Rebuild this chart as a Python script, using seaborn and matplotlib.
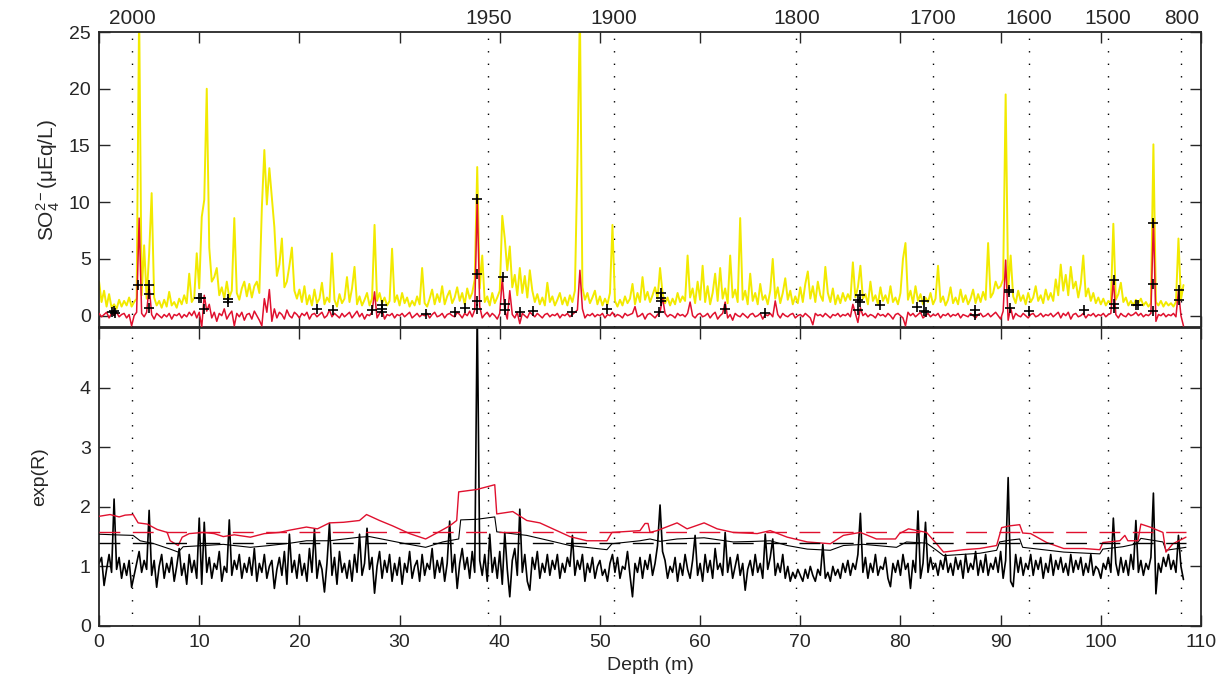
import numpy as np
import pandas as pd
import seaborn as sns
import matplotlib.pyplot as plt
import matplotlib.transforms as mtransforms

sns.set_style("ticks")
plt.rcParams['font.family'] = ['Liberation Sans', 'DejaVu Sans']
plt.rcParams['mathtext.fontset'] = 'custom'
plt.rcParams['mathtext.rm'] = 'Liberation Sans'
plt.rcParams['mathtext.it'] = 'Liberation Sans:italic'

# ---- data (depth grid 0.25 m for the noisy records) ----
step = 0.25

so4_total = [
    3.0, 1.2, 2.2, 0.8, 1.9, 0.7, 1.0, 0.6, 1.4, 0.8, 1.3, 0.9, 1.6, 0.8, 1.2, 1.5, 27.0, 1.8, 6.2, 1.5,
    5.5, 10.8, 1.6, 0.9, 1.3, 0.7, 1.4, 0.8, 2.1, 0.9, 1.2, 0.7, 1.5, 1.0, 1.8, 1.1, 3.7, 1.2, 1.6, 5.5,
    2.4, 8.7, 10.2, 20.0, 6.0, 3.0, 3.4, 4.2, 1.8, 2.5, 1.5, 3.0, 1.6, 2.2, 8.6, 2.0, 1.4, 2.4, 3.0, 1.7,
    2.8, 1.6, 2.6, 3.0, 2.0, 9.5, 14.6, 9.8, 13.0, 10.4, 7.8, 3.5, 4.5, 6.8, 2.5, 3.0, 4.4, 6.0, 2.2, 1.5,
    2.3, 1.2, 2.6, 1.0, 1.8, 0.9, 2.3, 1.1, 1.5, 2.9, 1.0, 1.6, 1.2, 5.5, 1.4, 0.8, 1.9, 1.1, 1.5, 3.4,
    1.2, 2.4, 4.3, 1.0, 1.7, 0.9, 1.4, 2.0, 0.9, 1.5, 8.0, 1.3, 2.0, 1.1, 1.6, 0.9, 1.3, 5.9, 1.2, 1.8,
    0.9, 2.0, 1.1, 1.6, 0.8, 1.3, 0.9, 1.7, 1.0, 4.2, 1.1, 0.8, 1.5, 2.3, 1.0, 1.9, 1.2, 2.6, 1.0, 1.7,
    2.2, 1.1, 1.6, 2.5, 1.3, 2.0, 1.0, 2.4, 1.5, 2.0, 3.2, 13.1, 2.4, 5.3, 1.2, 1.7, 0.9, 2.0, 1.1, 1.6,
    2.2, 8.8, 6.8, 4.0, 6.1, 2.5, 3.6, 1.8, 4.2, 2.0, 3.5, 1.6, 4.0, 2.2, 1.2, 1.9, 1.0, 1.6, 0.9, 2.9,
    1.2, 1.7, 0.9, 1.4, 2.0, 1.0, 1.6, 0.9, 1.8, 1.2, 2.2, 13.4, 27.0, 2.5, 1.4, 2.0, 1.1, 1.6, 2.2, 1.0,
    1.7, 0.9, 1.5, 1.0, 2.0, 8.0, 1.3, 0.8, 1.4, 0.9, 1.7, 1.1, 1.5, 2.8, 1.0, 2.0, 1.2, 3.4, 1.4, 2.1,
    1.2, 1.8, 2.5, 1.5, 4.2, 2.0, 1.1, 1.6, 0.9, 1.5, 1.0, 2.0, 1.2, 1.7, 1.3, 5.3, 1.6, 2.4, 1.1, 3.0,
    1.4, 4.4, 1.2, 2.6, 1.0, 2.0, 3.7, 1.3, 4.2, 1.5, 2.4, 1.1, 5.3, 1.6, 2.3, 1.2, 8.6, 1.4, 2.2, 1.0,
    3.7, 1.3, 2.0, 1.0, 2.8, 1.4, 1.8, 1.0, 2.2, 5.0, 1.5, 2.5, 1.1, 2.0, 3.3, 1.4, 2.2, 1.0, 1.7, 1.1,
    2.5, 1.2, 2.8, 3.9, 1.5, 2.6, 1.2, 3.0, 1.8, 1.3, 4.3, 2.0, 1.2, 2.4, 1.0, 1.8, 1.1, 2.0, 1.3, 1.9,
    1.4, 4.7, 1.6, 2.5, 4.4, 1.5, 1.9, 1.0, 3.0, 1.3, 1.8, 1.0, 2.5, 1.3, 1.8, 1.1, 2.6, 1.2, 1.6, 1.0,
    2.0, 5.0, 6.4, 1.4, 2.2, 1.1, 2.6, 1.3, 1.9, 1.0, 1.6, 1.2, 2.0, 1.0, 1.5, 4.4, 1.2, 1.7, 0.9, 1.4,
    2.5, 1.1, 1.6, 1.0, 2.3, 1.2, 1.8, 1.0, 1.5, 2.3, 1.1, 1.9, 1.2, 2.1, 1.4, 6.4, 1.6, 2.0, 3.0, 2.4,
    2.6, 3.2, 19.5, 2.3, 5.3, 1.7, 1.1, 2.2, 1.3, 1.8, 1.0, 2.0, 1.2, 1.6, 2.6, 1.3, 1.8, 1.1, 2.3, 1.4,
    2.0, 1.3, 3.2, 1.8, 4.5, 2.2, 3.6, 1.8, 4.3, 2.4, 3.0, 1.6, 2.8, 5.3, 1.7, 2.4, 1.3, 2.0, 1.1, 1.6,
    1.0, 1.5, 0.9, 1.3, 1.1, 8.1, 1.4, 1.9, 2.9, 1.2, 1.6, 0.9, 1.3, 0.9, 1.4, 1.1, 1.5, 0.9, 1.2, 0.8,
    1.1, 15.1, 1.2, 0.9, 1.3, 0.8, 1.2, 0.9, 1.1, 0.8, 1.2, 6.8, 1.4, 2.7,
]

so4_volc = [
    0.2, -0.1, 0.1, 0.3, -0.2, 0.2, 0.0, 0.3, -0.1, 0.1, 0.2, -0.2, 0.1, -0.9, 0.0, 0.3, 8.6, 0.2, -0.1, 0.3,
    2.6, 0.1, -0.3, 0.2, 0.0, -0.2, 0.1, -0.1, 0.2, -0.3, 0.1, 0.0, 0.2, -0.2, 0.1, -0.1, 0.3, 0.0, 0.4, -0.2,
    0.3, -1.0, 1.8, 0.4, 1.0, -0.2, 0.3, -0.5, 0.2, 0.0, 0.6, -0.3, 0.1, 0.4, -0.9, 0.2, -0.1, 0.3, -0.4, 0.1,
    0.2, -0.3, 0.4, 0.0, -0.4, -0.9, 1.5, 0.3, 2.3, -0.5, 0.6, -0.2, 0.3, 0.1, -0.3, 0.5, 0.0, -0.2, 0.3, 0.1,
    -0.2, 0.2, 0.0, 0.3, -0.3, 0.1, 0.2, -0.1, 0.1, 0.3, -0.2, 0.0, 0.5, -0.1, 0.2, 0.0, -0.2, 0.2, -0.1, 0.1,
    0.3, -0.2, 0.1, 0.4, -0.1, 0.2, -0.3, 0.1, 0.0, 0.3, 2.1, -0.2, 0.2, 0.5, -0.3, 0.1, 0.0, 0.2, -0.2, 0.1,
    0.0, 0.2, -0.1, 0.1, 0.3, -0.2, 0.0, 0.2, -0.1, 0.1, 0.0, 0.2, -0.2, 0.1, 0.3, -0.1, 0.0, 0.2, -0.2, 0.1,
    0.2, 0.0, -0.1, 0.3, 0.1, -0.2, 0.2, 0.0, 0.4, -0.1, 0.5, 10.3, 0.8, -0.2, 0.1, 0.3, -0.1, 0.2, 0.0, -0.3,
    0.2, 3.3, 0.5, -0.3, 2.2, 0.1, -0.2, 0.3, -0.7, 0.2, 0.0, -0.2, 0.3, 0.1, -0.1, 0.2, 0.0, -0.2, 0.1, 0.2,
    -0.1, 0.1, 0.0, 0.2, -0.2, 0.1, 0.0, 0.2, -0.1, 0.1, 0.3, 0.5, 4.0, 0.6, -0.2, 0.1, 0.0, 0.2, -0.1, 0.1,
    0.0, 0.2, -0.2, 0.1, 0.0, 0.3, -0.1, 0.1, 0.0, -0.2, 0.2, 0.0, 0.1, 0.2, 0.8, -0.1, 0.0, 0.2, -0.3, 0.1,
    0.2, 0.0, -0.2, 0.1, 0.3, 1.6, 0.2, -0.1, 0.1, 0.0, -0.2, 0.2, 0.0, 0.1, -0.1, 0.2, 1.2, 0.0, -0.2, 0.1,
    0.2, -0.1, 0.0, 0.2, -0.2, 0.1, 0.3, -0.3, 0.0, 0.2, 1.2, -0.2, 0.1, -0.4, 0.2, 0.0, -0.1, 0.2, 0.0, -0.2,
    0.1, 0.2, -0.1, 0.0, 0.2, -0.3, 0.1, 0.0, 0.2, -0.1, 1.3, 0.1, -0.2, 0.2, 0.0, -0.1, 0.1, 0.2, -0.2, 0.0,
    0.1, -0.1, 0.2, 0.0, -0.2, -0.8, 0.2, 0.0, 0.1, -0.1, 0.2, 0.0, -0.2, 0.1, 0.0, 0.2, -0.1, 0.1, 0.0, 0.2,
    -0.1, 1.0, 0.2, -0.6, 0.7, 0.0, 0.2, -0.1, 0.1, 0.0, -0.2, 0.2, 0.0, 0.1, -0.1, 0.2, 0.0, -0.3, 0.1, 0.2,
    0.0, -0.2, -0.9, 0.3, 0.0, 0.2, -0.1, 0.1, 0.3, -0.2, 0.0, 0.2, -0.1, 0.1, 0.0, 0.2, -0.2, 0.1, 0.0, 0.2,
    -0.1, 0.1, 0.0, 0.2, -0.2, 0.1, 0.0, -0.1, 0.2, 0.0, -0.2, 0.1, 0.2, -0.1, 0.0, 0.2, -0.1, 0.1, 0.3, 0.0,
    -0.3, 0.4, 4.9, -0.4, 0.7, -0.3, 0.2, 0.0, -0.1, 0.2, 0.0, -0.2, 0.1, 0.2, -0.1, 0.0, 0.2, -0.1, 0.1, 0.0,
    0.2, -0.1, 0.1, 0.3, -0.2, 0.2, 0.0, 0.3, -0.3, 0.1, 0.2, -0.1, 0.0, 0.2, -0.2, 0.1, 0.0, 0.2, -0.1, 0.1,
    0.0, 0.2, -0.1, 0.1, 0.2, 3.2, 0.1, -0.2, 0.2, 0.0, -0.1, 0.2, 0.0, 0.1, 0.3, 0.0, 0.2, -0.1, 0.1, 0.0,
    0.2, 8.4, -0.5, 0.1, 0.0, 0.2, -0.1, 0.1, 0.0, 0.2, -0.1, 2.2, 0.0, -0.9,
]

exp_r = [
    1.05, 1.15, 0.68, 0.95, 1.20, 0.90, 2.13, 0.95, 1.15, 0.80, 1.05, 0.85, 1.10, 0.65, 0.85, 1.05, 1.25, 0.90, 1.10, 0.95,
    1.94, 0.85, 1.10, 0.65, 1.00, 1.20, 0.80, 1.05, 0.90, 1.15, 0.75, 1.00, 1.30, 0.85, 1.05, 0.70, 1.20, 0.90, 1.10, 0.80,
    1.81, 0.70, 1.74, 0.90, 1.15, 0.80, 1.05, 0.95, 1.25, 0.75, 1.00, 0.90, 1.78, 0.85, 1.10, 0.95, 1.20, 0.80, 1.05, 0.90,
    1.15, 0.85, 1.30, 0.75, 1.05, 0.90, 1.20, 0.80, 1.00, 1.10, 0.63, 0.95, 1.15, 0.85, 1.25, 0.70, 1.54, 0.90, 1.10, 0.80,
    1.20, 0.85, 1.05, 0.75, 1.30, 0.90, 1.63, 0.80, 1.10, 0.95, 0.57, 1.05, 1.72, 0.85, 1.15, 0.70, 1.25, 0.90, 1.05, 0.80,
    1.10, 0.75, 1.20, 0.90, 1.54, 0.85, 1.05, 1.64, 0.95, 1.15, 0.55, 1.00, 1.25, 0.80, 1.10, 0.90, 1.20, 0.75, 1.05, 0.85,
    1.15, 0.70, 1.05, 0.90, 1.25, 0.80, 1.00, 1.10, 0.75, 1.20, 0.85, 1.05, 0.95, 1.30, 0.80, 1.10, 0.90, 1.15, 0.75, 1.05,
    1.76, 0.90, 1.20, 0.63, 1.05, 1.30, 0.95, 1.15, 0.80, 1.25, 0.90, 5.30, 1.10, 0.85, 1.20, 0.75, 1.54, 0.90, 1.15, 0.80,
    1.25, 0.70, 1.57, 0.95, 0.49, 1.10, 1.30, 0.85, 1.96, 0.90, 1.20, 0.75, 0.60, 1.15, 0.95, 1.25, 0.80, 1.05, 0.90, 1.20,
    0.85, 1.10, 0.95, 1.20, 0.80, 1.05, 0.90, 1.15, 1.00, 1.52, 0.85, 1.10, 0.95, 1.20, 0.75, 1.05, 0.90, 1.15, 0.80, 1.00,
    1.10, 0.85, 0.95, 0.75, 1.05, 1.20, 0.90, 1.15, 0.80, 1.00, 0.95, 1.25, 0.85, 0.49, 1.05, 0.90, 1.15, 0.80, 1.10, 0.95,
    1.20, 0.85, 1.05, 1.35, 2.03, 1.25, 1.10, 0.80, 1.00, 0.90, 1.15, 0.75, 1.05, 0.85, 1.20, 0.95, 0.80, 1.10, 1.52, 0.85,
    1.05, 0.75, 1.20, 0.90, 1.10, 0.80, 1.30, 0.95, 1.05, 0.85, 1.57, 0.90, 1.15, 0.80, 1.00, 1.20, 0.85, 1.05, 0.60, 0.95,
    1.10, 0.85, 1.20, 0.90, 1.05, 0.80, 1.54, 0.95, 1.15, 1.46, 0.85, 1.05, 0.90, 1.20, 0.80, 1.00, 0.75, 0.90, 0.80, 0.95,
    0.85, 0.75, 0.95, 0.80, 1.00, 0.85, 0.75, 0.95, 0.85, 1.37, 0.80, 0.90, 0.75, 1.00, 0.85, 0.95, 0.80, 1.05, 0.90, 1.10,
    0.85, 1.05, 0.95, 1.20, 1.89, 0.90, 1.15, 0.80, 1.05, 0.90, 1.20, 0.85, 1.00, 0.95, 1.15, 0.80, 0.66, 1.05, 0.90, 1.10,
    0.85, 1.20, 0.95, 1.05, 0.63, 1.10, 0.90, 1.93, 0.80, 1.05, 1.74, 0.90, 1.15, 0.95, 1.05, 0.85, 1.10, 0.95, 1.20, 0.90,
    1.05, 0.85, 1.15, 0.95, 1.10, 0.80, 1.20, 0.90, 1.05, 0.95, 1.25, 0.85, 1.10, 0.90, 1.20, 0.85, 1.05, 0.95, 1.15, 0.90,
    1.25, 0.80, 1.10, 2.49, 0.75, 0.66, 1.20, 0.90, 1.15, 0.85, 1.05, 0.95, 1.20, 0.85, 1.10, 0.95, 1.15, 0.80, 1.05, 0.90,
    1.20, 0.85, 1.10, 0.95, 1.15, 0.90, 1.05, 0.85, 1.20, 0.90, 1.10, 0.95, 1.15, 0.85, 1.05, 0.90, 1.20, 0.85, 1.00, 0.95,
    0.80, 1.05, 0.95, 1.15, 0.90, 1.81, 1.05, 0.85, 1.15, 0.90, 1.10, 0.85, 1.20, 0.95, 1.77, 0.90, 1.10, 0.85, 1.05, 0.95,
    1.15, 2.23, 0.54, 1.05, 0.90, 1.15, 1.00, 1.20, 0.95, 1.10, 0.90, 1.52, 1.00, 0.78,
]

# running thresholds (breakpoints)
thr_red_depth = [0, 1.1, 2.0, 2.6, 3.4, 3.9, 4.8, 5.8, 6.8, 7.1, 7.9, 8.3, 9.0, 10.4, 11.5, 12.4, 13.5,
                 15.1, 16.5, 18.0, 19.1, 20.7, 21.8, 23.0, 24.4, 26.0, 26.7, 28.0, 29.3, 31.0, 32.6,
                 33.6, 35.0, 35.7, 35.9, 37.7, 39.5, 39.7, 41.3, 42.7, 44.0, 45.3, 47.0, 48.7, 50.7,
                 51.2, 54.0, 54.5, 54.8, 55.0, 55.7, 57.7, 58.7, 60.4, 61.7, 63.3, 65.7, 67.0, 68.7,
                 70.7, 73.0, 74.3, 76.0, 77.6, 79.5, 79.9, 80.8, 82.6, 83.6, 84.3, 86.3, 87.9, 89.6,
                 90.1, 90.9, 91.9, 92.2, 93.0, 94.6, 96.3, 98.3, 99.9, 100.2, 101.9, 102.4, 102.7,
                 103.7, 104.0, 104.9, 106.2, 106.5, 107.2, 108.5]
thr_red_value = [1.84, 1.87, 1.83, 1.86, 1.87, 1.73, 1.71, 1.62, 1.57, 1.43, 1.35, 1.49, 1.55, 1.57, 1.55,
                 1.50, 1.53, 1.49, 1.55, 1.57, 1.61, 1.66, 1.63, 1.73, 1.74, 1.77, 1.87, 1.77, 1.68,
                 1.55, 1.46, 1.55, 1.68, 1.77, 2.25, 2.29, 2.37, 1.88, 1.92, 1.77, 1.73, 1.63, 1.50,
                 1.43, 1.43, 1.57, 1.60, 1.72, 1.72, 1.57, 1.60, 1.73, 1.63, 1.73, 1.63, 1.57, 1.55,
                 1.60, 1.49, 1.41, 1.38, 1.52, 1.57, 1.46, 1.46, 1.55, 1.63, 1.57, 1.38, 1.24, 1.28,
                 1.30, 1.35, 1.65, 1.68, 1.70, 1.56, 1.55, 1.40, 1.30, 1.30, 1.28, 1.40, 1.43, 1.52,
                 1.43, 1.43, 1.71, 1.66, 1.57, 1.24, 1.38, 1.49]

thr_black_depth = [0, 1.5, 3.4, 4.1, 5.5, 7.1, 7.9, 8.4, 10.5, 12.4, 15.1, 17.0, 19.1, 20.7, 23.0, 26.0,
                   27.0, 28.5, 30.3, 32.6, 34.3, 35.9, 36.1, 37.7, 39.5, 39.7, 42.7, 45.0, 47.0, 50.7,
                   51.2, 54.0, 55.0, 56.0, 57.7, 60.4, 63.3, 65.5, 67.0, 68.7, 70.7, 73.0, 74.3, 76.3,
                   79.6, 80.6, 82.6, 83.6, 84.3, 87.9, 89.6, 89.9, 90.9, 91.9, 92.2, 96.3, 99.9, 100.2,
                   102.2, 103.6, 104.0, 106.2, 106.5, 108.5]
thr_black_value = [1.54, 1.53, 1.52, 1.43, 1.38, 1.29, 1.24, 1.33, 1.35, 1.37, 1.32, 1.35, 1.39, 1.43,
                   1.43, 1.49, 1.50, 1.45, 1.39, 1.32, 1.41, 1.46, 1.78, 1.79, 1.83, 1.58, 1.52, 1.43,
                   1.35, 1.28, 1.38, 1.43, 1.46, 1.42, 1.46, 1.48, 1.41, 1.42, 1.43, 1.35, 1.29, 1.27,
                   1.35, 1.37, 1.32, 1.41, 1.39, 1.27, 1.18, 1.22, 1.27, 1.41, 1.44, 1.46, 1.32, 1.24,
                   1.21, 1.29, 1.33, 1.38, 1.47, 1.41, 1.27, 1.32]

level_red = 1.57
level_black = 1.39
record_end = 108.5

# detected events (+)
event_depth = [1.3, 1.45, 1.6, 3.9, 5.0, 5.0, 5.0, 10.0, 10.2, 10.5, 12.85, 12.85, 21.8, 23.4, 27.2,
               28.2, 28.2, 28.2, 32.6, 35.5, 36.5, 37.7, 37.7, 37.7, 37.7, 40.3, 40.5, 40.5, 42.0,
               43.3, 47.2, 50.7, 55.9, 56.1, 56.1, 56.1, 62.5, 66.5, 75.8, 75.95, 75.95, 75.8, 78.0,
               81.7, 82.3, 82.3, 82.5, 87.4, 87.4, 90.8, 90.8, 90.9, 92.8, 98.3, 101.3, 101.3, 101.3,
               103.5, 103.7, 105.2, 105.2, 105.2, 107.8, 107.8]
event_value = [0.3, 0.4, 0.25, 2.72, 2.7, 1.93, 0.67, 1.56, 1.56, 0.6, 1.5, 1.2, 0.58, 0.54, 0.48,
               0.9, 0.6, 0.3, 0.15, 0.3, 0.67, 10.3, 3.66, 1.25, 0.58, 3.4, 1.0, 0.54, 0.3,
               0.4, 0.33, 0.58, 0.33, 2.0, 1.6, 1.25, 0.58, 0.2, 1.34, 1.78, 1.2, 0.54, 0.9,
               0.8, 1.25, 0.4, 0.35, 0.5, 0.07, 2.3, 2.1, 0.67, 0.4, 0.48, 3.1, 1.05, 0.67,
               0.96, 0.9, 8.2, 2.8, 0.4, 2.3, 1.4]

year_depth = [3.32, 38.85, 51.4, 69.6, 83.2, 92.85, 100.7, 108.05]
year_label = ['2000', '1950', '1900', '1800', '1700', '1600', '1500', '800']

depth = np.arange(len(so4_total)) * step
df = pd.DataFrame({'depth': depth, 'total': so4_total, 'volc': so4_volc, 'expr': exp_r})

YELLOW = '#f2ea00'
RED = '#e0102e'

fig = plt.figure(figsize=(12.26, 6.87), dpi=100)
ax1 = fig.add_axes([0.0808, 0.524, 0.8988, 0.4294])
ax2 = fig.add_axes([0.0808, 0.0888, 0.8988, 0.4338])

# top panel
sns.lineplot(data=df, x='depth', y='total', ax=ax1, color=YELLOW, linewidth=1.4,
             estimator=None, sort=False, legend=False, zorder=2)
sns.lineplot(data=df, x='depth', y='volc', ax=ax1, color=RED, linewidth=1.1,
             estimator=None, sort=False, legend=False, zorder=3)
sns.scatterplot(x=event_depth, y=event_value, ax=ax1, marker='+', color='black',
                s=55, linewidth=1.2, zorder=4, legend=False)

# bottom panel
sns.lineplot(data=df, x='depth', y='expr', ax=ax2, color='black', linewidth=1.2,
             estimator=None, sort=False, legend=False, zorder=2)
sns.lineplot(x=thr_black_depth, y=thr_black_value, ax=ax2, color='black', linewidth=0.8,
             estimator=None, sort=False, legend=False, zorder=3)
sns.lineplot(x=thr_red_depth, y=thr_red_value, ax=ax2, color=RED, linewidth=1.0,
             estimator=None, sort=False, legend=False, zorder=4)
ax2.hlines(level_red, 0, record_end, colors=RED, linestyles=(0, (15, 9)), linewidth=1.0, zorder=4)
ax2.hlines(level_black, 0, record_end, colors='black', linestyles=(0, (15, 9)), linewidth=1.0, zorder=4)

for ax in (ax1, ax2):
    for d in year_depth:
        ax.axvline(d, color='black', linestyle=(0, (1, 8)), linewidth=1.0, zorder=1)
    ax.set_xlim(0, 110)
    ax.set_xticks(np.arange(0, 111, 10))
    ax.tick_params(direction='in', top=True, right=True, length=8, width=1,
                   labelsize=14, pad=6)
    for sp in ax.spines.values():
        sp.set_linewidth(1.3)
        sp.set_visible(True)

ax1.set_ylim(-1, 25)
ax1.set_yticks([0, 5, 10, 15, 20, 25])
ax1.tick_params(labelbottom=False)
ax1.set_xlabel('')
ax1.set_ylabel('SO$_4^{2\u2212}$(\u03bcEq/L)', fontsize=15)
ax1.yaxis.set_label_coords(-0.034, 0.5)

ax2.set_ylim(0, 5)
ax2.set_yticks([0, 1, 2, 3, 4])
ax2.set_xlabel('Depth (m)', fontsize=14)
ax2.set_ylabel('exp(R)', fontsize=14)
ax2.yaxis.set_label_coords(-0.046, 0.5)

trans = mtransforms.blended_transform_factory(ax1.transData, ax1.transAxes)
for d, lab in zip(year_depth, year_label):
    ax1.text(d, 1.012, lab, transform=trans, ha='center', va='bottom', fontsize=15)

fig.savefig('out.png', dpi=100)
